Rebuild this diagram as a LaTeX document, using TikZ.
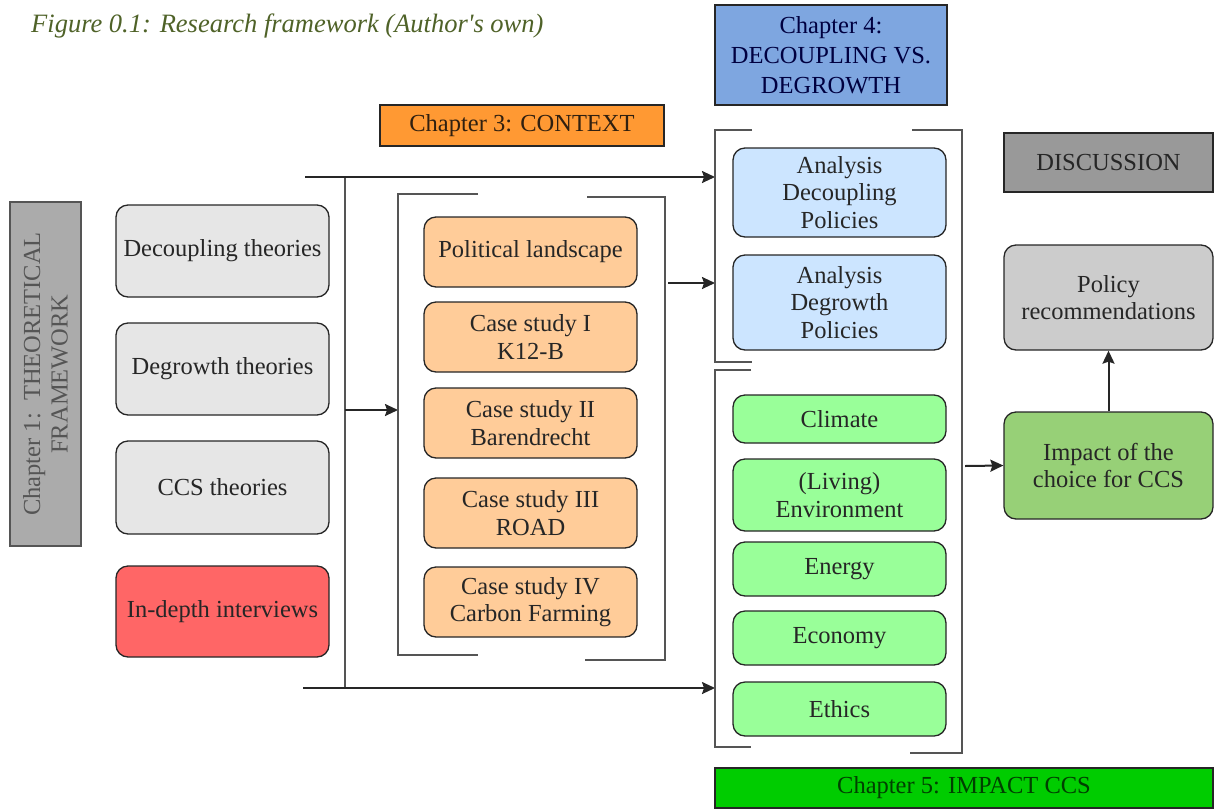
\documentclass[tikz,border=0pt]{standalone}
\usepackage{fontspec}
\setmainfont{Liberation Serif}
\usetikzlibrary{arrows.meta}

\definecolor{titlegreen}{HTML}{4F6228}
\definecolor{boxgray}{HTML}{E6E6E6}
\definecolor{ivred}{HTML}{FF6666}
\definecolor{lightorange}{HTML}{FFCC99}
\definecolor{headorange}{HTML}{FF9933}
\definecolor{headblue}{HTML}{7EA6E0}
\definecolor{lightblue}{HTML}{CCE5FF}
\definecolor{lightgreen}{HTML}{99FF99}
\definecolor{impactgreen}{HTML}{97D077}
\definecolor{headgreen}{HTML}{00CC00}
\definecolor{discgray}{HTML}{999999}
\definecolor{recgray}{HTML}{CCCCCC}
\definecolor{chgray}{HTML}{ABABAB}
\definecolor{linegray}{HTML}{555555}
\definecolor{inkdark}{HTML}{262626}

\begin{document}
\begin{tikzpicture}[x=1pt,y=-1pt,
  txt/.style={font=\fontsize{24.5}{27.6}\selectfont, align=center, text=inkdark},
  rbox/.style={txt, draw=inkdark, line width=1.3pt, rounded corners=12pt, inner sep=0pt},
  hbox/.style={txt, draw=inkdark, line width=1.3pt, inner sep=0pt},
  bracket/.style={draw=linegray, line width=2pt},
  arr/.style={draw=inkdark, line width=2pt, -{Stealth[length=13pt,width=12pt,inset=2pt]}}
]
\useasboundingbox (0,0) rectangle (1215,809);

% caption
\node[anchor=base west, inner sep=0pt, text=titlegreen,
      font=\fontsize{26.5}{30}\selectfont\itshape] (cap) at (31,32)
  {Figure 0.1: Research framework (Author\textquotesingle s own)};

% chapter headers
\node[hbox, fill=chgray, draw=linegray, text=linegray, rotate=90,
      minimum width=344, minimum height=71] (ch1) at (45.5,374)
  {Chapter 1:\ \ THEORETICAL\\FRAMEWORK};
\node[hbox, fill=headorange, text=black!75!brown, minimum width=284, minimum height=41] (ch3) at (522,125.5)
  {Chapter 3: CONTEXT};
\node[hbox, fill=headblue, text=blue!25!black, font=\fontsize{24.5}{30}\selectfont,
      minimum width=232, minimum height=100] (ch4) at (831,55)
  {Chapter 4:\\DECOUPLING VS.\\DEGROWTH};
\node[hbox, fill=headgreen, text=green!25!black, minimum width=498, minimum height=40] (ch5) at (964,788)
  {Chapter 5: IMPACT CCS};
\node[hbox, fill=discgray, minimum width=209, minimum height=59] (disc) at (1108.5,162.5)
  {DISCUSSION};

% theory column
\node[rbox, fill=boxgray, minimum width=213, minimum height=92] (dec) at (222.5,251) {Decoupling theories};
\node[rbox, fill=boxgray, minimum width=213, minimum height=92] (deg) at (222.5,369) {Degrowth theories};
\node[rbox, fill=boxgray, minimum width=213, minimum height=93] (ccs) at (222.5,487.5) {CCS theories};
\node[rbox, fill=ivred, minimum width=213, minimum height=91] (int) at (222.5,611.5) {In-depth interviews};

% context column
\node[rbox, fill=lightorange, minimum width=213, minimum height=70] (pol) at (530.5,252) {Political landscape};
\node[rbox, fill=lightorange, minimum width=213, minimum height=70] (cs1) at (530.5,337) {Case study I\\K12-B};
\node[rbox, fill=lightorange, minimum width=213, minimum height=70] (cs2) at (530.5,423) {Case study II\\Barendrecht};
\node[rbox, fill=lightorange, minimum width=213, minimum height=70] (cs3) at (530.5,513) {Case study III\\ROAD};
\node[rbox, fill=lightorange, minimum width=213, minimum height=70] (cs4) at (530.5,602) {Case study IV\\Carbon Farming};

% policy analysis
\node[rbox, fill=lightblue, minimum width=213, minimum height=89] (adec) at (839.5,192.5) {Analysis\\Decoupling\\Policies};
\node[rbox, fill=lightblue, minimum width=213, minimum height=95] (adeg) at (839.5,302.5) {Analysis\\Degrowth\\Policies};

% impact themes
\node[rbox, fill=lightgreen, minimum width=213, minimum height=48] (cli) at (839.5,419) {Climate};
\node[rbox, fill=lightgreen, minimum width=213, minimum height=72] (liv) at (839.5,495) {(Living)\\Environment};
\node[rbox, fill=lightgreen, minimum width=213, minimum height=54] (ene) at (839.5,569) {Energy};
\node[rbox, fill=lightgreen, minimum width=213, minimum height=54] (eco) at (839.5,638) {Economy};
\node[rbox, fill=lightgreen, minimum width=213, minimum height=54] (eth) at (839.5,709) {Ethics};

% discussion column
\node[rbox, fill=recgray, minimum width=209, minimum height=105] (rec) at (1108.5,297.5) {Policy\\recommendations};
\node[rbox, fill=impactgreen, minimum width=209, minimum height=107] (imp) at (1108.5,465.5) {Impact of the\\choice for CCS};

% bracket and trunk points
\coordinate (tstart) at (305,177);
\coordinate (tjoin) at (345,177);
\coordinate (mjoin) at (345,410);
\coordinate (bjoin) at (345,688);
\coordinate (bstart) at (303,688);
\coordinate (ctxin) at (398,410);
\coordinate (polin) at (715,177);
\coordinate (impin) at (715,688);
\coordinate (ctxout) at (668,283);
\coordinate (polmid) at (715,283);
\coordinate (impout) at (965,466);

% trunk from the theory column
\draw[bracket] (tjoin) -- (bjoin);
\draw[arr] (tstart) -- (polin);
\draw[arr] (bstart) -- (impin);
\draw[arr] (mjoin) -- (ctxin);

% context brackets
\draw[bracket] (478,194) -- (398,194) -- (398,655) -- (478,655);
\draw[bracket] (587,197) -- (665,197) -- (665,660) -- (585,660);
\draw[arr] (ctxout) -- (polmid);

% chapter 4 / 5 brackets
\draw[bracket] (752,130) -- (715,130) -- (715,362) -- (752,362);
\draw[bracket] (751,370) -- (715,370) -- (715,747) -- (751,747);
\draw[bracket] (912,130) -- (962,130) -- (962,753) -- (910,753);

% towards the discussion
\draw[arr] (impout) -- (imp.west);
\draw[arr] (imp.north) -- (rec.south);
\end{tikzpicture}
\end{document}
